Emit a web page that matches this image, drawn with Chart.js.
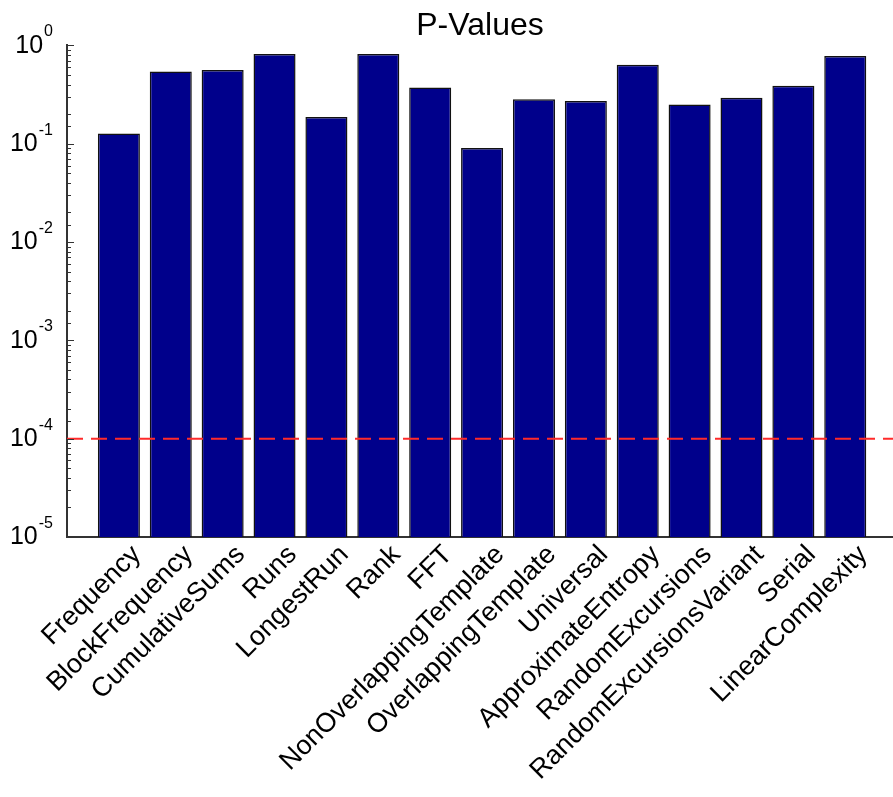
<!DOCTYPE html>
<html>
<head>
<meta charset="utf-8">
<script src="https://cdn.jsdelivr.net/npm/chart.js@4/dist/chart.umd.min.js"></script>
<style>
  body { margin: 0; background: #fff; }
</style>
</head>
<body>
<canvas id="chart" width="893" height="797"></canvas>
<script>
const testNames = [
  'Frequency', 'BlockFrequency', 'CumulativeSums', 'Runs', 'LongestRun',
  'Rank', 'FFT', 'NonOverlappingTemplate', 'OverlappingTemplate', 'Universal',
  'ApproximateEntropy', 'RandomExcursions', 'RandomExcursionsVariant', 'Serial',
  'LinearComplexity'
];
const pValues = [
  0.127, 0.544, 0.561, 0.816, 0.187,
  0.816, 0.374, 0.0905, 0.283, 0.272,
  0.637, 0.250, 0.294, 0.389, 0.779
];
const threshold = 1e-4;
const yMin = 1e-5;
const yMax = 1;
// x range of the axes (right side is cut off by the figure edge)
const xMin = 0;
const xMax = 15.92;

const font = "'Liberation Sans', Arial, 'DejaVu Sans', sans-serif";

function isDecade(v) {
  const l = Math.log10(v);
  return Math.abs(l - Math.round(l)) < 1e-6;
}

// MATLAB style: ticks point into the axes, labels are 10 with a raised exponent
const logAxisDecor = {
  id: 'logAxisDecor',
  afterDatasetsDraw(chart) {
    const ctx = chart.ctx;
    const y = chart.scales.y;
    const area = chart.chartArea;
    ctx.save();
    ctx.strokeStyle = '#333';
    ctx.lineWidth = 1;
    y.ticks.forEach(t => {
      const py = Math.round(y.getPixelForValue(t.value)) + 0.5;
      const len = isDecade(t.value) ? 7 : 4;
      ctx.beginPath();
      ctx.moveTo(area.left, py);
      ctx.lineTo(area.left + len, py);
      ctx.stroke();
    });

    ctx.fillStyle = '#000';
    const right = area.left - 14;
    y.ticks.forEach(t => {
      if (!isDecade(t.value)) return;
      const py = y.getPixelForValue(t.value);
      const exp = String(Math.round(Math.log10(t.value)));
      ctx.font = '16px ' + font;
      const ew = ctx.measureText(exp).width;
      ctx.textAlign = 'left';
      ctx.textBaseline = 'alphabetic';
      ctx.fillText(exp, right - ew, py - 9);
      ctx.font = '25px ' + font;
      ctx.textAlign = 'right';
      ctx.textBaseline = 'middle';
      ctx.fillText('10', right - ew - 1, py + 0.5);
    });
    ctx.restore();
  }
};

new Chart(document.getElementById('chart'), {
  data: {
    datasets: [
      {
        type: 'line',
        data: [{ x: xMin, y: threshold }, { x: xMax, y: threshold }],
        borderColor: '#ff2a2a',
        borderWidth: 2,
        borderDash: [16, 8],
        pointRadius: 0
      },
      {
        type: 'bar',
        data: pValues.map((v, i) => ({ x: i + 1, y: v })),
        backgroundColor: '#00008b',
        borderColor: '#111',
        borderWidth: 1.5,
        barPercentage: 0.81,
        categoryPercentage: 1
      }
    ]
  },
  options: {
    responsive: false,
    animation: false,
    layout: { padding: { top: 0, right: 0, left: 0, bottom: 0 } },
    plugins: {
      legend: { display: false },
      tooltip: { enabled: false },
      title: {
        display: true,
        fullSize: false,
        text: 'P-Values',
        color: '#000',
        font: { family: font, size: 32, weight: 'normal' },
        padding: { top: 7, bottom: 0 }
      }
    },
    scales: {
      x: {
        type: 'linear',
        offset: false,
        min: xMin,
        max: xMax,
        grid: { display: false, drawTicks: false },
        border: { display: true, color: '#333', width: 2 },
        // keep only whole-number ticks so the cut-off edge does not narrow the bars
        afterBuildTicks(scale) {
          scale.ticks = scale.ticks.filter(t => Number.isInteger(t.value));
        },
        afterFit(scale) {
          scale.height = 260;
          scale.paddingLeft = 0;
          scale.paddingRight = 0;
        },
        ticks: {
          stepSize: 1,
          autoSkip: false,
          minRotation: 45,
          maxRotation: 45,
          padding: 2,
          labelOffset: 18,
          color: '#000',
          font: { family: font, size: 27 },
          callback: v => (v >= 1 && v <= testNames.length) ? testNames[v - 1] : ''
        }
      },
      y: {
        type: 'logarithmic',
        min: yMin,
        max: yMax,
        grid: { display: false, drawTicks: false },
        border: { display: true, color: '#333', width: 2 },
        afterFit(scale) { scale.width = 67; },
        ticks: {
          autoSkip: false,
          callback: () => ''
        }
      }
    }
  },
  plugins: [logAxisDecor]
});
</script>
</body>
</html>
